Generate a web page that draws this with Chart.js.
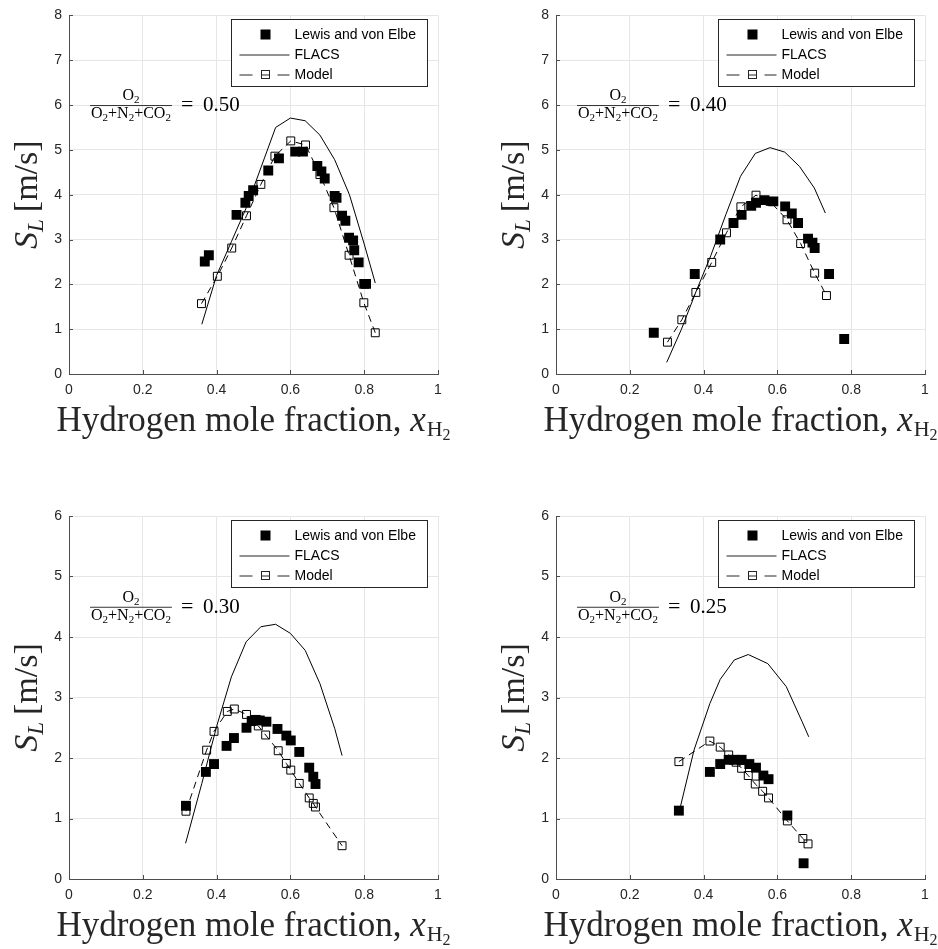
<!DOCTYPE html>
<html>
<head>
<meta charset="utf-8">
<script src="https://cdn.jsdelivr.net/npm/chart.js@4.4.0/dist/chart.umd.min.js"></script>
<style>
  body { margin: 0; background: #fff; }
  canvas { position: absolute; }
</style>
</head>
<body>
<canvas id="c50" width="469" height="470" style="left:0;top:0"></canvas>
<canvas id="c40" width="469" height="470" style="left:469px;top:0"></canvas>
<canvas id="c30" width="469" height="479" style="left:0;top:470px"></canvas>
<canvas id="c25" width="469" height="479" style="left:469px;top:470px"></canvas>
<script>
// O2 / (O2+N2+CO2) = 0.50
const lewisX50 = [0.368, 0.379, 0.454, 0.478, 0.487, 0.499, 0.540, 0.569, 0.613, 0.634, 0.673, 0.684, 0.693, 0.720, 0.725, 0.740, 0.749, 0.759, 0.770, 0.773, 0.785, 0.800, 0.805];
const lewisY50 = [2.51, 2.65, 3.55, 3.82, 3.97, 4.10, 4.54, 4.81, 4.96, 4.96, 4.64, 4.52, 4.36, 3.97, 3.93, 3.53, 3.42, 3.04, 2.98, 2.76, 2.49, 2.01, 2.01];
const flacsX50 = [0.36, 0.40, 0.44, 0.48, 0.52, 0.56, 0.60, 0.64, 0.68, 0.72, 0.76, 0.80, 0.83];
const flacsY50 = [1.11, 2.20, 2.95, 3.70, 4.60, 5.50, 5.71, 5.65, 5.33, 4.78, 4.00, 2.90, 2.03];
const modelX50 = [0.359, 0.402, 0.441, 0.481, 0.520, 0.558, 0.601, 0.641, 0.680, 0.718, 0.759, 0.799, 0.830];
const modelY50 = [1.57, 2.18, 2.81, 3.53, 4.23, 4.86, 5.20, 5.11, 4.45, 3.71, 2.65, 1.59, 0.92];

// 0.40
const lewisX40 = [0.265, 0.376, 0.445, 0.481, 0.503, 0.529, 0.542, 0.565, 0.589, 0.621, 0.639, 0.656, 0.683, 0.695, 0.701, 0.740, 0.781];
const lewisY40 = [0.92, 2.23, 3.00, 3.37, 3.55, 3.75, 3.82, 3.88, 3.85, 3.74, 3.58, 3.37, 3.02, 2.93, 2.81, 2.23, 0.78];
const flacsX40 = [0.30, 0.34, 0.38, 0.42, 0.46, 0.50, 0.54, 0.58, 0.62, 0.66, 0.70, 0.73];
const flacsY40 = [0.26, 1.00, 1.85, 2.65, 3.55, 4.41, 4.92, 5.05, 4.95, 4.63, 4.15, 3.59];
const modelX40 = [0.302, 0.341, 0.379, 0.422, 0.462, 0.501, 0.542, 0.580, 0.626, 0.663, 0.701, 0.733];
const modelY40 = [0.71, 1.21, 1.82, 2.49, 3.15, 3.73, 3.99, 3.85, 3.44, 2.91, 2.25, 1.75];

// 0.30
const lewisX30 = [0.317, 0.371, 0.393, 0.427, 0.447, 0.481, 0.495, 0.506, 0.517, 0.535, 0.565, 0.589, 0.601, 0.624, 0.651, 0.662, 0.668];
const lewisY30 = [1.21, 1.77, 1.90, 2.20, 2.33, 2.50, 2.61, 2.63, 2.62, 2.60, 2.48, 2.37, 2.29, 2.10, 1.84, 1.69, 1.57];
const flacsX30 = [0.316, 0.36, 0.40, 0.44, 0.48, 0.52, 0.56, 0.60, 0.64, 0.68, 0.72, 0.74];
const flacsY30 = [0.59, 1.58, 2.52, 3.34, 3.92, 4.17, 4.21, 4.06, 3.78, 3.23, 2.49, 2.04];
const modelX30 = [0.317, 0.373, 0.393, 0.429, 0.448, 0.481, 0.513, 0.533, 0.567, 0.589, 0.601, 0.624, 0.651, 0.662, 0.668, 0.740];
const modelY30 = [1.12, 2.13, 2.44, 2.77, 2.81, 2.72, 2.53, 2.38, 2.12, 1.91, 1.80, 1.58, 1.34, 1.25, 1.19, 0.55];

// 0.25
const lewisX25 = [0.333, 0.417, 0.445, 0.468, 0.483, 0.503, 0.524, 0.542, 0.562, 0.576, 0.627, 0.671];
const lewisY25 = [1.13, 1.77, 1.90, 1.97, 1.97, 1.97, 1.90, 1.84, 1.71, 1.65, 1.05, 0.26];
const flacsX25 = [0.333, 0.374, 0.417, 0.445, 0.483, 0.521, 0.574, 0.624, 0.667, 0.685];
const flacsY25 = [1.09, 2.13, 2.90, 3.30, 3.62, 3.71, 3.56, 3.18, 2.60, 2.35];
const modelX25 = [0.333, 0.417, 0.445, 0.468, 0.488, 0.503, 0.521, 0.540, 0.560, 0.576, 0.627, 0.669, 0.683];
const modelY25 = [1.94, 2.28, 2.18, 2.05, 1.93, 1.83, 1.71, 1.57, 1.45, 1.34, 0.96, 0.67, 0.58];

const ratioLabels = ["0.50", "0.40", "0.30", "0.25"];
const seriesNames = ["Lewis and von Elbe", "FLACS", "Model"];

const serif = '"Liberation Serif", serif';
const sans = '"Liberation Sans", Arial, sans-serif';

function pts(xs, ys) {
  return xs.map((x, i) => ({ x: x, y: ys[i] }));
}

// text made of pieces, each with own font and vertical shift
function runsWidth(ctx, runs) {
  let w = 0;
  runs.forEach((r) => {
    ctx.font = r.font;
    w += ctx.measureText(r.text).width + (r.gap || 0);
  });
  return w;
}
function drawRuns(ctx, runs, x, y) {
  let cx = x;
  runs.forEach((r) => {
    ctx.font = r.font;
    ctx.fillText(r.text, cx, y + (r.dy || 0));
    cx += ctx.measureText(r.text).width + (r.gap || 0);
  });
  return cx - x;
}

const decor = {
  id: "decor",
  afterDraw(chart, args, opts) {
    const ctx = chart.ctx;
    const area = chart.chartArea;
    const xs = chart.scales.x;
    const ys = chart.scales.y;
    ctx.save();
    ctx.fillStyle = "#000";
    ctx.textBaseline = "alphabetic";
    ctx.textAlign = "left";

    // inward tick marks
    ctx.strokeStyle = "#4d4d4d";
    ctx.lineWidth = 1;
    ctx.beginPath();
    xs.ticks.forEach((t) => {
      const px = Math.round(xs.getPixelForValue(t.value)) + 0.5;
      ctx.moveTo(px, area.bottom);
      ctx.lineTo(px, area.bottom - 4);
    });
    ys.ticks.forEach((t) => {
      const py = Math.round(ys.getPixelForValue(t.value)) + 0.5;
      ctx.moveTo(area.left, py);
      ctx.lineTo(area.left + 4, py);
    });
    ctx.stroke();

    // x title
    const xRuns = [
      { text: "Hydrogen mole fraction, ", font: "35px " + serif },
      { text: "x", font: "italic 35px " + serif, gap: 1 },
      { text: "H", font: "22px " + serif, dy: 5 },
      { text: "2", font: "16px " + serif, dy: 9 },
    ];
    ctx.fillStyle = "#262626";
    const xw = runsWidth(ctx, xRuns);
    drawRuns(ctx, xRuns, (area.left + area.right) / 2 - xw / 2, area.bottom + 57);

    // y title
    const yRuns = [
      { text: "S", font: "italic 34px " + serif },
      { text: "L", font: "italic 23px " + serif, dy: 6, gap: 7 },
      { text: "[m/s]", font: "34px " + serif },
    ];
    const yw = runsWidth(ctx, yRuns);
    ctx.save();
    ctx.translate(area.left - 32, (area.top + area.bottom) / 2);
    ctx.rotate(-Math.PI / 2);
    drawRuns(ctx, yRuns, -yw / 2, 0);
    ctx.restore();

    // ratio annotation
    ctx.fillStyle = "#000";
    const ax = xs.getPixelForValue(opts.ax);
    const ay = ys.getPixelForValue(opts.ay);
    const f = "16px " + serif;
    const fs = "11px " + serif;
    const num = [{ text: "O", font: f }, { text: "2", font: fs, dy: 3 }];
    const den = [
      { text: "O", font: f }, { text: "2", font: fs, dy: 3 },
      { text: "+", font: f }, { text: "N", font: f }, { text: "2", font: fs, dy: 3 },
      { text: "+", font: f }, { text: "CO", font: f }, { text: "2", font: fs, dy: 3 },
    ];
    const dw = runsWidth(ctx, den);
    const nw = runsWidth(ctx, num);
    const barW = dw + 2;
    drawRuns(ctx, num, ax + barW / 2 - nw / 2, ay - 5);
    drawRuns(ctx, den, ax + 1, ay + 13);
    ctx.beginPath();
    ctx.lineWidth = 0.8;
    ctx.strokeStyle = "#000";
    ctx.moveTo(ax, ay + 0.5);
    ctx.lineTo(ax + barW, ay + 0.5);
    ctx.stroke();
    ctx.font = "22px " + serif;
    ctx.fillText("=", ax + barW + 9, ay + 6);
    ctx.font = "21px " + serif;
    ctx.fillText(opts.label, ax + barW + 31, ay + 6);

    // legend
    const bw = 196, bh = 67;
    const bx = Math.round(area.right - 11 - bw) + 0.5;
    const by = Math.round(area.top + 4) + 0.5;
    ctx.fillStyle = "#fff";
    ctx.fillRect(bx, by, bw, bh);
    ctx.strokeStyle = "#262626";
    ctx.lineWidth = 1;
    ctx.strokeRect(bx, by, bw, bh);
    ctx.fillStyle = "#000";
    const r1 = by + 15, r2 = by + 35, r3 = by + 55;
    ctx.fillRect(bx + 34 - 5, r1 - 5, 10, 10);
    ctx.beginPath();
    ctx.moveTo(bx + 8, r2 + 0.5);
    ctx.lineTo(bx + 58, r2 + 0.5);
    ctx.moveTo(bx + 8, r3 + 0.5);
    ctx.lineTo(bx + 21, r3 + 0.5);
    ctx.moveTo(bx + 30, r3 + 0.5);
    ctx.lineTo(bx + 38, r3 + 0.5);
    ctx.moveTo(bx + 46, r3 + 0.5);
    ctx.lineTo(bx + 58, r3 + 0.5);
    ctx.stroke();
    ctx.strokeRect(bx + 30, r3 - 4, 8, 8);
    ctx.font = "14px " + sans;
    ctx.textBaseline = "middle";
    ctx.fillText(seriesNames[0], bx + 63, r1 + 1);
    ctx.fillText(seriesNames[1], bx + 63, r2 + 1);
    ctx.fillText(seriesNames[2], bx + 63, r3 + 1);
    ctx.restore();
  },
};

function makePanel(id, lewis, flacs, model, yMax, label, ay, yWidth, xHeight, pad) {
  const ctx = document.getElementById(id).getContext("2d");
  return new Chart(ctx, {
    type: "scatter",
    data: {
      datasets: [
        {
          label: seriesNames[2],
          data: model,
          showLine: true,
          borderColor: "#000",
          borderWidth: 1,
          borderDash: [7, 5],
          pointStyle: "rect",
          pointRadius: 5.6,
          pointBorderWidth: 1,
          pointBorderColor: "#000",
          pointBackgroundColor: "rgba(0,0,0,0)",
          order: 0,
        },
        {
          label: seriesNames[1],
          data: flacs,
          showLine: true,
          borderColor: "#000",
          borderWidth: 1,
          pointRadius: 0,
          order: 1,
        },
        {
          label: seriesNames[0],
          data: lewis,
          showLine: false,
          pointStyle: "rect",
          pointRadius: 7,
          pointBorderWidth: 0,
          pointBackgroundColor: "#000",
          pointBorderColor: "#000",
          order: 2,
        },
      ],
    },
    options: {
      responsive: false,
      animation: false,
      events: [],
      layout: { padding: pad },
      plugins: {
        legend: { display: false },
        tooltip: { enabled: false },
        decor: { label: label, ax: 0.057, ay: ay },
      },
      scales: {
        x: {
          type: "linear",
          min: 0,
          max: 1,
          ticks: {
            stepSize: 0.2,
            padding: 8,
            color: "#262626",
            font: { family: sans, size: 14 },
            callback: (v) => String(Number(v.toFixed(1))),
          },
          grid: { color: "#e6e6e6", drawTicks: false },
          border: { display: true, color: "#4d4d4d", width: 1 },
          afterFit: (scale) => { scale.height = xHeight; },
        },
        y: {
          type: "linear",
          min: 0,
          max: yMax,
          ticks: { stepSize: 1, padding: 7, color: "#262626", font: { family: sans, size: 14 } },
          grid: { color: "#e6e6e6", drawTicks: false },
          border: { display: true, color: "#4d4d4d", width: 1 },
          afterFit: (scale) => { scale.width = yWidth; },
        },
      },
    },
    plugins: [decor],
  });
}

makePanel("c50", pts(lewisX50, lewisY50), pts(flacsX50, flacsY50), pts(modelX50, modelY50), 8, ratioLabels[0], 6.0, 69, 96, { left: 0, top: 10, right: 31, bottom: 0 });
makePanel("c40", pts(lewisX40, lewisY40), pts(flacsX40, flacsY40), pts(modelX40, modelY40), 8, ratioLabels[1], 6.0, 87, 96, { left: 0, top: 10, right: 13, bottom: 0 });
makePanel("c30", pts(lewisX30, lewisY30), pts(flacsX30, flacsY30), pts(modelX30, modelY30), 6, ratioLabels[2], 4.5, 69, 70, { left: 0, top: 46, right: 31, bottom: 0 });
makePanel("c25", pts(lewisX25, lewisY25), pts(flacsX25, flacsY25), pts(modelX25, modelY25), 6, ratioLabels[3], 4.5, 87, 70, { left: 0, top: 46, right: 13, bottom: 0 });
</script>
</body>
</html>
